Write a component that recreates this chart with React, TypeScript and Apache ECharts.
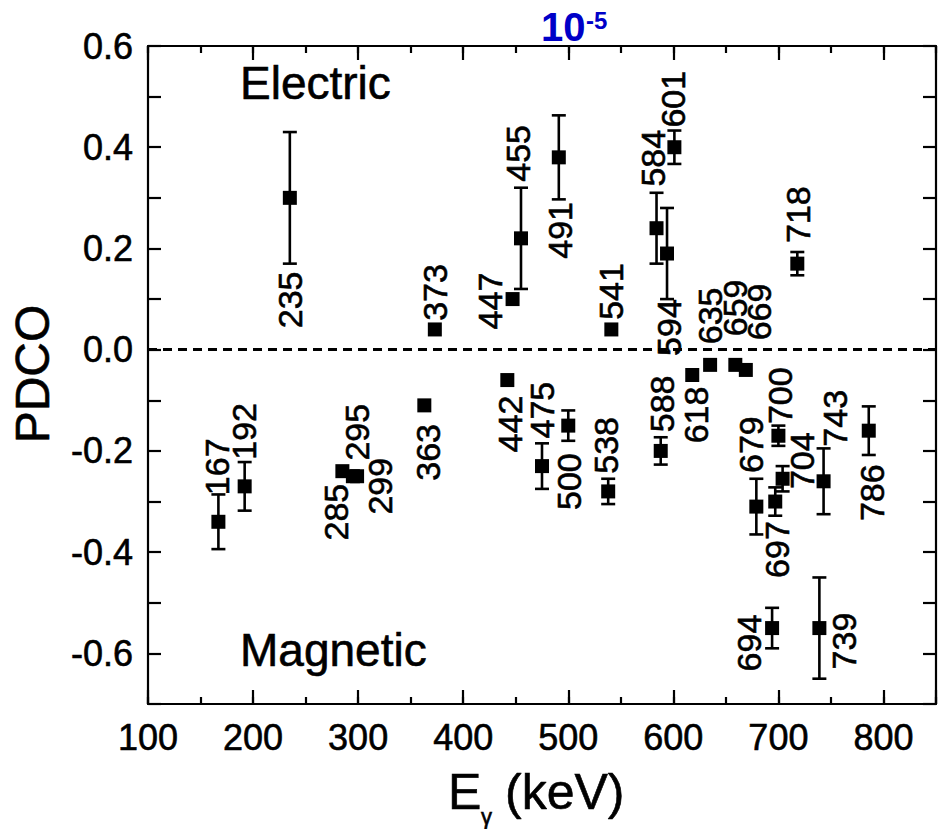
import React, { useEffect, useRef } from "react";
import * as echarts from "echarts";

// Gamma-ray energies (keV)
const energies = [167, 192, 235, 285, 295, 299, 363, 373, 442, 447, 455, 475, 491, 500, 538, 541, 584, 588, 594, 601, 618, 635, 659, 669, 679, 694, 697, 700, 704, 718, 739, 743, 786];
// PDCO values
const pdco = [-0.34, -0.27, 0.3, -0.24, -0.25, -0.25, -0.11, 0.04, -0.06, 0.1, 0.22, -0.23, 0.38, -0.15, -0.28, 0.04, 0.24, -0.2, 0.19, 0.4, -0.05, -0.03, -0.03, -0.04, -0.31, -0.55, -0.3, -0.17, -0.255, 0.17, -0.55, -0.26, -0.16];
// PDCO uncertainties
const errors = [0.054, 0.048, 0.13, 0, 0, 0, 0, 0, 0, 0, 0.1, 0.045, 0.083, 0.03, 0.025, 0, 0.07, 0.027, 0.09, 0.033, 0, 0, 0, 0, 0.055, 0.04, 0.028, 0.02, 0.025, 0.023, 0.1, 0.065, 0.048];
// label placement (pixel offset of the rotated label centre from its point) – layout only
const labelOffsets: [number, number][] = [
  [-1, -55], [-1, -55], [0, 102], [-6, 41], [4, -44], [23, 10], [4, 47], [0, -37], [3, 44], [-23, 2],
  [-3, -85], [0, -56], [1, 73], [1, 56], [-2.5, -46], [0, -38], [-4, -70], [1, -47], [2, 74], [-1.5, -48],
  [4, 40], [0, -49], [0, -57], [13, -58], [-5, -62], [-23, 15], [2, 48], [2, -40], [19, -18], [1, -49],
  [25, 13], [11.5, -63], [3, 62],
];

const xMin = 100;
const xMax = 850;
const yMin = -0.7;
const yMax = 0.6;
const FONT = '"Liberation Sans", Arial, sans-serif';

export default function App() {
  const ref = useRef<HTMLDivElement>(null);
  useEffect(() => {
    document.body.style.margin = "0";
    const chart = echarts.init(ref.current!, undefined, { renderer: "svg" });
    const black = "#000";
    const lineW = 2.2;
    const tb = 0.6; // slight text weight
    const baseX = {
      type: "value" as const,
      min: xMin,
      max: xMax,
      splitLine: { show: false },
    };
    const data = energies.map((e, i) => [e, pdco[i], errors[i]]);
    const txt = (o: any) => ({ stroke: black, lineWidth: tb, fill: black, ...o });
    chart.setOption({
      animation: false,
      grid: { left: 148, right: -13, top: 46, bottom: 125, containLabel: false },
      xAxis: [
        {
          ...baseX, position: "bottom", interval: 50,
          axisLine: { show: true, onZero: false, lineStyle: { color: black, width: lineW } },
          axisTick: { show: true, inside: true, length: 7, lineStyle: { color: black, width: lineW } },
          axisLabel: { show: false },
        },
        {
          ...baseX, position: "bottom", interval: 100,
          axisLine: { show: false, onZero: false },
          axisTick: { show: true, inside: true, length: 14, lineStyle: { color: black, width: lineW } },
          axisLabel: {
            show: true, fontSize: 36, fontFamily: FONT, color: black, margin: 15,
            textBorderColor: black, textBorderWidth: tb,
            formatter: (v: number) => (Math.round(v) % 100 === 0 ? String(Math.round(v)) : ""),
          },
        },
        {
          ...baseX, position: "top", interval: 50,
          axisLine: { show: true, onZero: false, lineStyle: { color: black, width: lineW } },
          axisTick: { show: true, inside: true, length: 7, lineStyle: { color: black, width: lineW } },
          axisLabel: { show: false },
        },
        {
          ...baseX, position: "top", interval: 100,
          axisLine: { show: false, onZero: false },
          axisTick: { show: true, inside: true, length: 14, lineStyle: { color: black, width: lineW } },
          axisLabel: { show: false },
        },
      ],
      yAxis: [
        {
          type: "value", position: "left", min: yMin, max: yMax, interval: 0.1,
          splitLine: { show: false },
          axisLine: { show: true, onZero: false, lineStyle: { color: black, width: lineW } },
          axisTick: { show: true, inside: true, length: 13, lineStyle: { color: black, width: lineW } },
          axisLabel: {
            show: true, fontSize: 36, fontFamily: FONT, color: black, margin: 15,
            textBorderColor: black, textBorderWidth: tb,
            formatter: (v: number) => {
              const k = Math.round(v * 10);
              return k % 2 === 0 ? (k / 10).toFixed(1) : "";
            },
          },
        },
        {
          type: "value", position: "right", min: yMin, max: yMax, interval: 0.1,
          splitLine: { show: false },
          axisLine: { show: true, onZero: false, lineStyle: { color: black, width: lineW } },
          axisTick: { show: true, inside: true, length: 13, lineStyle: { color: black, width: lineW } },
          axisLabel: { show: false },
        },
      ],
      series: [
        {
          type: "custom",
          xAxisIndex: 0,
          yAxisIndex: 0,
          data,
          encode: { x: 0, y: 1 },
          clip: false,
          z: 3,
          renderItem: (params: any, api: any) => {
            const i = params.dataIndex;
            const xv = api.value(0);
            const yv = api.value(1);
            const ev = api.value(2);
            const p = api.coord([xv, yv]);
            const children: any[] = [];
            if (ev > 0) {
              const t = api.coord([xv, yv + ev]);
              const b = api.coord([xv, yv - ev]);
              const st = { stroke: black, lineWidth: 2.6 };
              children.push({ type: "line", shape: { x1: p[0], y1: t[1], x2: p[0], y2: b[1] }, style: st });
              children.push({ type: "line", shape: { x1: p[0] - 7, y1: t[1], x2: p[0] + 7, y2: t[1] }, style: st });
              children.push({ type: "line", shape: { x1: p[0] - 7, y1: b[1], x2: p[0] + 7, y2: b[1] }, style: st });
            }
            const off = labelOffsets[i] || [0, -40];
            children.push({
              type: "text",
              x: p[0] + off[0],
              y: p[1] + off[1],
              rotation: Math.PI / 2,
              style: txt({
                text: String(energies[i]),
                font: `34px ${FONT}`,
                align: "center",
                verticalAlign: "middle",
              }),
            });
            return { type: "group", children };
          },
        },
        {
          type: "scatter",
          xAxisIndex: 0,
          yAxisIndex: 0,
          data: data.map((d) => [d[0], d[1]]),
          symbol: "rect",
          symbolSize: 14,
          itemStyle: { color: black, opacity: 1 },
          z: 4,
          markLine: {
            silent: true,
            symbol: ["none", "none"],
            label: { show: false },
            lineStyle: { color: black, width: 2.8, type: [9, 6], opacity: 1 },
            data: [{ yAxis: 0 }],
          },
        },
      ],
      graphic: [
        { type: "text", x: 585.5, y: 27, style: { text: "10", font: `bold 40px ${FONT}`, fill: "#0000c8", align: "right", verticalAlign: "middle" } },
        { type: "text", x: 586, y: 20.5, style: { text: "-5", font: `bold 24px ${FONT}`, fill: "#0000c8", align: "left", verticalAlign: "middle" } },
        { type: "text", x: 240, y: 82.5, style: txt({ text: "Electric", font: `46px ${FONT}`, align: "left", verticalAlign: "middle" }) },
        { type: "text", x: 240, y: 650, style: txt({ text: "Magnetic", font: `46px ${FONT}`, align: "left", verticalAlign: "middle" }) },
        { type: "text", x: 32, y: 374, rotation: Math.PI / 2, style: txt({ text: "PDCO", font: `48px ${FONT}`, align: "center", verticalAlign: "middle" }) },
        { type: "text", x: 448, y: 792, style: txt({ text: "E", font: `50px ${FONT}`, align: "left", verticalAlign: "middle" }) },
        { type: "text", x: 481, y: 816, style: txt({ text: "γ", font: `22px ${FONT}`, align: "left", verticalAlign: "middle" }) },
        { type: "text", x: 505, y: 792, style: txt({ text: "(keV)", font: `50px ${FONT}`, align: "left", verticalAlign: "middle" }) },
      ],
    });
    return () => chart.dispose();
  }, []);
  return <div ref={ref} style={{ position: "fixed", left: 0, top: 0, width: 939, height: 829, background: "#fff" }} />;
}
